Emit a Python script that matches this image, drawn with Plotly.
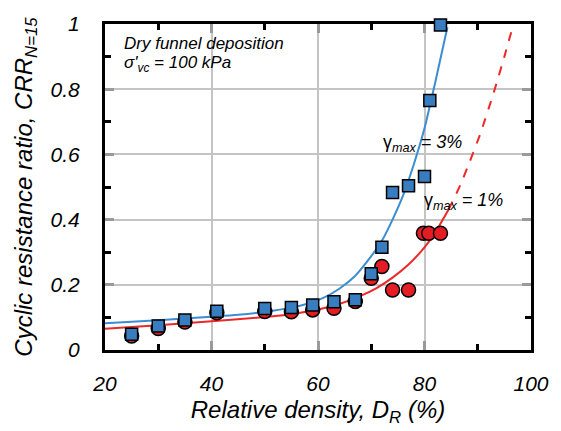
import plotly.graph_objects as go

# ---- data ----
dr_points = [25, 30, 35, 41, 50, 55, 59, 63, 67, 70, 72, 74, 77, 80, 81, 83]
crr_3pct = [0.048, 0.074, 0.092, 0.119, 0.127, 0.13, 0.138, 0.148, 0.154, 0.234, 0.315, 0.483, 0.504, 0.532, 0.765, 0.997]
dr_points_1 = [25, 30, 35, 41, 50, 55, 59, 63, 67, 70, 72, 74, 77, 79.8, 80.8, 83.0]
crr_1pct = [0.043, 0.066, 0.086, 0.114, 0.118, 0.117, 0.123, 0.128, 0.149, 0.22, 0.256, 0.184, 0.184, 0.358, 0.358, 0.358]

fit3_x = [20, 30, 40, 45, 50, 55, 58, 61, 64, 67, 70, 72, 74, 76, 78, 80, 82, 84.3]
fit3_y = [0.082, 0.091, 0.102, 0.108, 0.117, 0.130, 0.142, 0.160, 0.188, 0.228, 0.288, 0.335, 0.40, 0.475, 0.57, 0.68, 0.82, 0.99]

fit1_x = [20, 30, 40, 50, 55, 60, 64, 68, 71, 74, 77, 80, 82, 84.5]
fit1_y = [0.065, 0.076, 0.088, 0.101, 0.110, 0.124, 0.141, 0.166, 0.19, 0.222, 0.262, 0.315, 0.36, 0.43]
fit1_ext_x = [84.5, 86.7, 88.5, 90.5, 93, 95, 96.7]
fit1_ext_y = [0.43, 0.505, 0.578, 0.664, 0.79, 0.90, 1.0]

x_ticks = [20, 40, 60, 80, 100]
y_ticks = [0, 0.2, 0.4, 0.6, 0.8, 1]

BLUE_FILL = "rgb(55,125,192)"
BLUE_LINE = "rgb(60,140,210)"
RED_FILL = "rgb(228,28,36)"
RED_LINE = "rgb(236,40,40)"
FONT = "Liberation Sans, Arial, sans-serif"

fig = go.Figure()
fig.add_trace(go.Scatter(x=fit1_x, y=fit1_y, mode="lines",
                         line=dict(color=RED_LINE, width=2, shape="spline", smoothing=0.6),
                         hoverinfo="skip", showlegend=False))
fig.add_trace(go.Scatter(x=fit1_ext_x, y=fit1_ext_y, mode="lines",
                         line=dict(color=RED_LINE, width=2, dash="dash", shape="spline", smoothing=0.6),
                         hoverinfo="skip", showlegend=False))
fig.add_trace(go.Scatter(x=fit3_x, y=fit3_y, mode="lines",
                         line=dict(color=BLUE_LINE, width=2, shape="spline", smoothing=0.6),
                         hoverinfo="skip", showlegend=False))
fig.add_trace(go.Scatter(x=dr_points_1, y=crr_1pct, mode="markers", name="γmax = 1%",
                         marker=dict(symbol="circle", size=14, color=RED_FILL,
                                     line=dict(color="black", width=1.5)),
                         cliponaxis=False, showlegend=False))
fig.add_trace(go.Scatter(x=dr_points, y=crr_3pct, mode="markers", name="γmax = 3%",
                         marker=dict(symbol="square", size=12, color=BLUE_FILL,
                                     line=dict(color="black", width=1.5)),
                         cliponaxis=False, showlegend=False))

axis_common = dict(
    showline=True, linecolor="black", linewidth=3, mirror="allticks",
    ticks="inside", ticklen=9, tickwidth=3, tickcolor="#9a9a9a",
    showgrid=True, gridcolor="#c4c4c4", gridwidth=2, zeroline=False,
    tickfont=dict(family=FONT, size=21, color="black", style="italic"),
    layer="below traces",
)

fig.update_xaxes(range=[20, 100], tickvals=x_ticks, ticktext=[str(v) for v in x_ticks],
                 minor=dict(dtick=10, tick0=0, ticks="inside", ticklen=6, tickwidth=3, tickcolor="black", showgrid=False),
                 ticklabelstandoff=13,
                 title=dict(text="Relative density, <i>D<sub>R</sub></i> (%)", standoff=7,
                            font=dict(family=FONT, size=24, color="black", style="italic")),
                 **axis_common)
fig.update_yaxes(range=[0, 1], tickvals=y_ticks, ticktext=["0", "0.2", "0.4", "0.6", "0.8", "1"],
                 minor=dict(dtick=0.1, tick0=0, ticks="inside", ticklen=6, tickwidth=3, tickcolor="black", showgrid=False),
                 ticklabelstandoff=18,
                 title=dict(text="Cyclic resistance ratio, CRR<sub>N=15</sub>", standoff=12,
                            font=dict(family=FONT, size=24, color="black", style="italic")),
                 **axis_common)

ann_font = dict(family=FONT, size=17, color="black")
fig.add_annotation(x=0.04, y=0.94, xref="paper", yref="paper", xanchor="left", yanchor="middle",
                   text="<i>Dry funnel deposition</i>", showarrow=False, font=ann_font)
fig.add_annotation(x=0.04, y=0.877, xref="paper", yref="paper", xanchor="left", yanchor="middle",
                   text="<i>σ'<sub>vc</sub> = 100 kPa</i>", showarrow=False, font=ann_font)
fig.add_annotation(x=79.7, y=0.632, xanchor="center", yanchor="middle",
                   text="γ<sub><i>max</i></sub><i> = 3%</i>", showarrow=False,
                   font=dict(family=FONT, size=18, color="black"))
fig.add_annotation(x=87.3, y=0.455, xanchor="center", yanchor="middle",
                   text="γ<sub><i>max</i></sub><i> = 1%</i>", showarrow=False,
                   font=dict(family=FONT, size=18, color="black"))

fig.update_layout(width=561, height=431, margin=dict(l=105, r=23, t=15, b=80),
                  paper_bgcolor="white", plot_bgcolor="white", showlegend=False,
                  font=dict(family=FONT))

fig.write_html("out.html")
